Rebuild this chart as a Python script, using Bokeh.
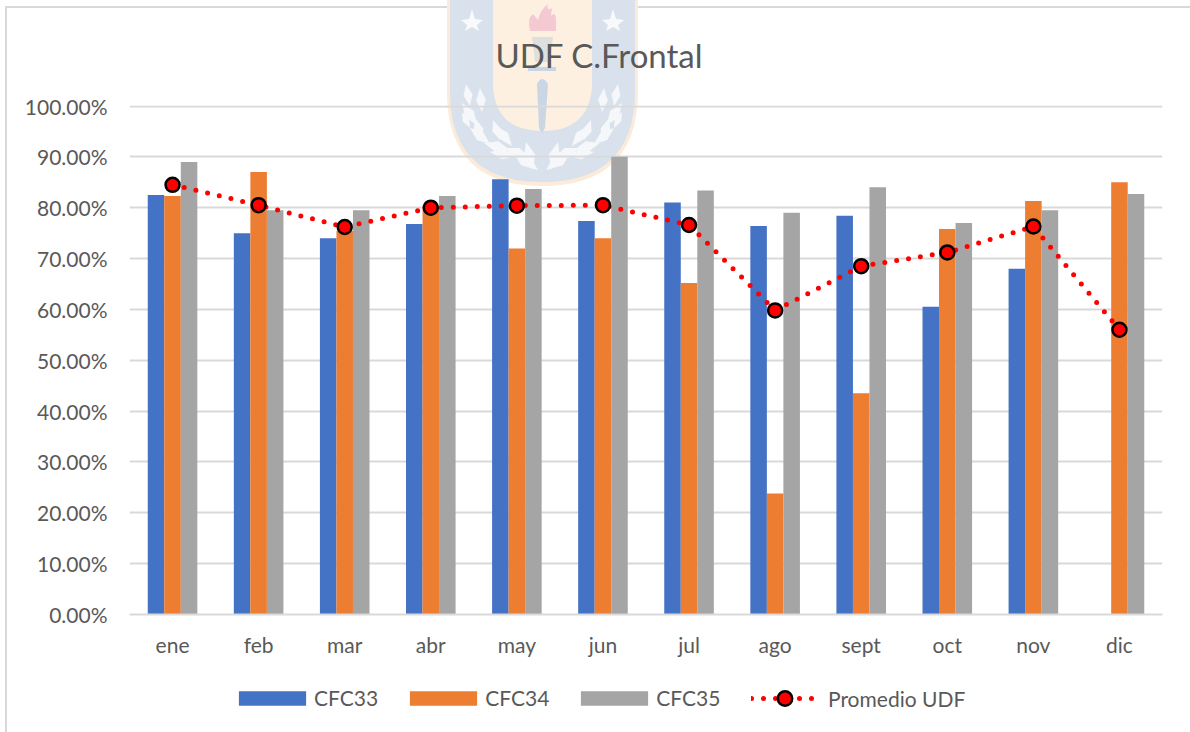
from urllib.parse import quote
from bokeh.plotting import figure
from bokeh.layouts import column
from bokeh.embed import file_html
from bokeh.resources import INLINE
from bokeh.models import ColumnDataSource, Legend, LegendItem, NumeralTickFormatter, FixedTicker
from bokeh.transform import dodge

months = ["ene","feb","mar","abr","may","jun","jul","ago","sept","oct","nov","dic"]
cfc33 = [82.5,75.0,74.0,76.8,85.6,77.4,81.0,76.4,78.4,60.5,68.0,None]
cfc34 = [82.3,87.0,75.4,80.5,72.0,74.0,65.2,23.8,43.5,75.8,81.3,85.0]
cfc35 = [89.0,79.5,79.5,82.3,83.7,90.0,83.4,79.0,84.0,77.0,79.5,82.7]
promedio = [84.5,80.5,76.2,80.0,80.4,80.5,76.6,59.8,68.5,71.2,76.3,56.0]
series_names = ["CFC33","CFC34","CFC35","Promedio UDF"]
title_text = "UDF C.Frontal"
FONT = "Lato"
GREY = "#595959"
BLUE, ORANGE, SILVER, RED = "#4472C4", "#ED7D31", "#A5A5A5", "#FF0000"

src = ColumnDataSource(dict(m=months,
    a=[float("nan") if v is None else v/100 for v in cfc33],
    b=[v/100 for v in cfc34], c=[v/100 for v in cfc35], d=[v/100 for v in promedio]))

W, H1, H2 = 1190, 668, 64
FL, FB = 129, 614

# --- decorative crest behind the chart, as a page background -------------------
def poly(xs, ys, fill):
    pts = " ".join(f"{x},{y}" for x, y in zip(xs, ys))
    return f'<polygon points="{pts}" fill="{fill}"/>'

shapes = [
    '<path d="M447 -2H638V95Q636 186 542 186Q449 186 447 95Z" fill="#FBEBD8"/>',
    '<path d="M450 -2H635V95Q633 182 542 182Q452 182 450 95Z" fill="#D9E2EC"/>',
    '<path d="M493 -2H592V85Q590 131 542 131Q495 131 493 85Z" fill="#FDF0E0"/>',
    '<path d="M530 30Q527 18 533 14L538 20Q540 10 548 4Q546 12 552 8L551 16Q556 10 556 22V31H530Z" fill="#F5C9D2"/>',
    poly([532,553,550,535],[37,37,62,62],"#DEE0DE"),
    poly([528,556,556,528],[67,67,71,71],"#C9D5E3"),
    '<path d="M537 84Q542 74 548 84L545 128L542 133L539 128Z" fill="#CBD6E4"/>',
]
for cx in (472, 613):
    shapes.append(poly([cx-11,cx-3,cx,cx+3,cx+11,cx+5,cx+7,cx,cx-7,cx-5],[20,19,9,19,20,25,31,27,31,25],"#F7F9FB"))
leaves = [(466,84,470,106),(480,88,482,112),(462,103,477,125),(475,118,482,142),(462,112,470,128),
          (493,120,500,140),(470,128,490,144),(484,143,510,150),(496,126,512,146),(505,148,530,158),
          (490,152,516,156),(512,150,538,170),(526,142,533,170)]
for x0, y0, x1, y1 in leaves:
    for sx0, sx1 in ((x0, x1), (1084 - x0, 1084 - x1)):
        mx, my = (sx0+sx1)/2, (y0+y1)/2
        dx, dy = (y1-y0)*0.2, (sx1-sx0)*0.2
        shapes.append(poly([sx0, mx+dx, sx1, mx-dx],[y0, my-dy, y1, my+dy],"#F5F7FA"))

svg_top = (f'<svg xmlns="http://www.w3.org/2000/svg" width="{W}" height="{H1}">'
           f'<rect x="5" y="6" width="{W}" height="2" fill="#D9D9D9"/><rect x="5" y="6" width="2" height="{H1}" fill="#D9D9D9"/>'
           + "".join(shapes) + '</svg>')
svg_low = (f'<svg xmlns="http://www.w3.org/2000/svg" width="{W}" height="{H2}">'
           f'<rect x="5" y="0" width="2" height="{H2}" fill="#D9D9D9"/></svg>')

# --- main chart ----------------------------------------------------------------
p = figure(width=W, height=H1, x_range=months, y_range=(0, 1.001), output_backend="svg", toolbar_location=None,
           min_border_left=FL, min_border_right=W-1162, min_border_top=105, min_border_bottom=H1-FB,
           background_fill_alpha=0, border_fill_alpha=0)
p.styles = {"background-image": "url(\"data:image/svg+xml," + quote(svg_top) + "\")", "background-repeat": "no-repeat"}
p.outline_line_color = None
p.title.text = title_text
p.title.text_font = FONT
p.title.text_font_size = "33px"
p.title.text_font_style = "normal"
p.title.text_color = GREY
p.title.align = "left"
p.title.offset = 495 - FL
p.title.standoff = 62

p.yaxis.ticker = FixedTicker(ticks=[i/10 for i in range(11)])
p.yaxis.formatter = NumeralTickFormatter(format="0.00%")
for ax in (p.xaxis[0], p.yaxis[0]):
    ax.major_label_text_font = FONT
    ax.major_label_text_font_size = "21px"
    ax.major_label_text_color = GREY
    ax.major_tick_line_color = None
    ax.minor_tick_line_color = None
p.yaxis.axis_line_color = None
p.yaxis.major_label_standoff = 16
p.xaxis.axis_line_color = "#D9D9D9"
p.xaxis.axis_line_width = 2
p.xaxis.major_label_standoff = 11
p.xgrid.grid_line_color = None
p.ygrid.grid_line_color = "#D9D9D9"
p.ygrid.grid_line_width = 2

w = 0.192
p.vbar(x=dodge("m",-w,range=p.x_range), top="a", width=w, bottom=0, source=src, fill_color=BLUE, line_color=None)
p.vbar(x=dodge("m",0,range=p.x_range), top="b", width=w, bottom=0, source=src, fill_color=ORANGE, line_color=None)
p.vbar(x=dodge("m",w,range=p.x_range), top="c", width=w, bottom=0, source=src, fill_color=SILVER, line_color=None)
p.line(x="m", y="d", source=src, line_color=RED, line_width=5, line_dash="0 12", line_cap="round")
p.scatter(x="m", y="d", source=src, size=14, marker="circle", fill_color=RED, line_color="black", line_width=2.5)

# --- legend strip below the chart -----------------------------------------------
q = figure(width=W, height=H2, x_range=(0, 1), y_range=(0, 1), output_backend="svg", toolbar_location=None,
           x_axis_type=None, y_axis_type=None, min_border_left=0, min_border_right=0, min_border_top=0, min_border_bottom=0,
           background_fill_alpha=0, border_fill_alpha=0)
q.styles = {"background-image": "url(\"data:image/svg+xml," + quote(svg_low) + "\")", "background-repeat": "no-repeat"}
q.outline_line_color = None
q.grid.visible = False
nan = [float("nan")]
la = q.vbar(x=nan, top=nan, width=1, fill_color=BLUE, line_color=None)
lb = q.vbar(x=nan, top=nan, width=1, fill_color=ORANGE, line_color=None)
lc = q.vbar(x=nan, top=nan, width=1, fill_color=SILVER, line_color=None)
ll = q.line(x=nan, y=nan, line_color=RED, line_width=5, line_dash="0 12", line_cap="round")
ls = q.scatter(x=nan, y=nan, size=13, marker="circle", fill_color=RED, line_color="black", line_width=2.5)
common = dict(orientation="horizontal", padding=0, margin=0, border_line_color=None, background_fill_alpha=0,
              label_text_font=FONT, label_text_font_size="21px", label_text_color=GREY)
bars_legend = Legend(items=[LegendItem(label=series_names[0], renderers=[la]), LegendItem(label=series_names[1], renderers=[lb]),
                            LegendItem(label=series_names[2], renderers=[lc])],
                     location=(101, 22), glyph_width=84, glyph_height=18, label_standoff=0, spacing=23, **common)
line_legend = Legend(items=[LegendItem(label=series_names[3], renderers=[ll, ls])],
                     location=(622, 16), glyph_width=67, glyph_height=36, label_standoff=10, spacing=0, **common)
q.add_layout(bars_legend, "center")
q.add_layout(line_legend, "center")

page = column(p, q, spacing=0)
open("out.html", "w").write(file_html(page, INLINE))
